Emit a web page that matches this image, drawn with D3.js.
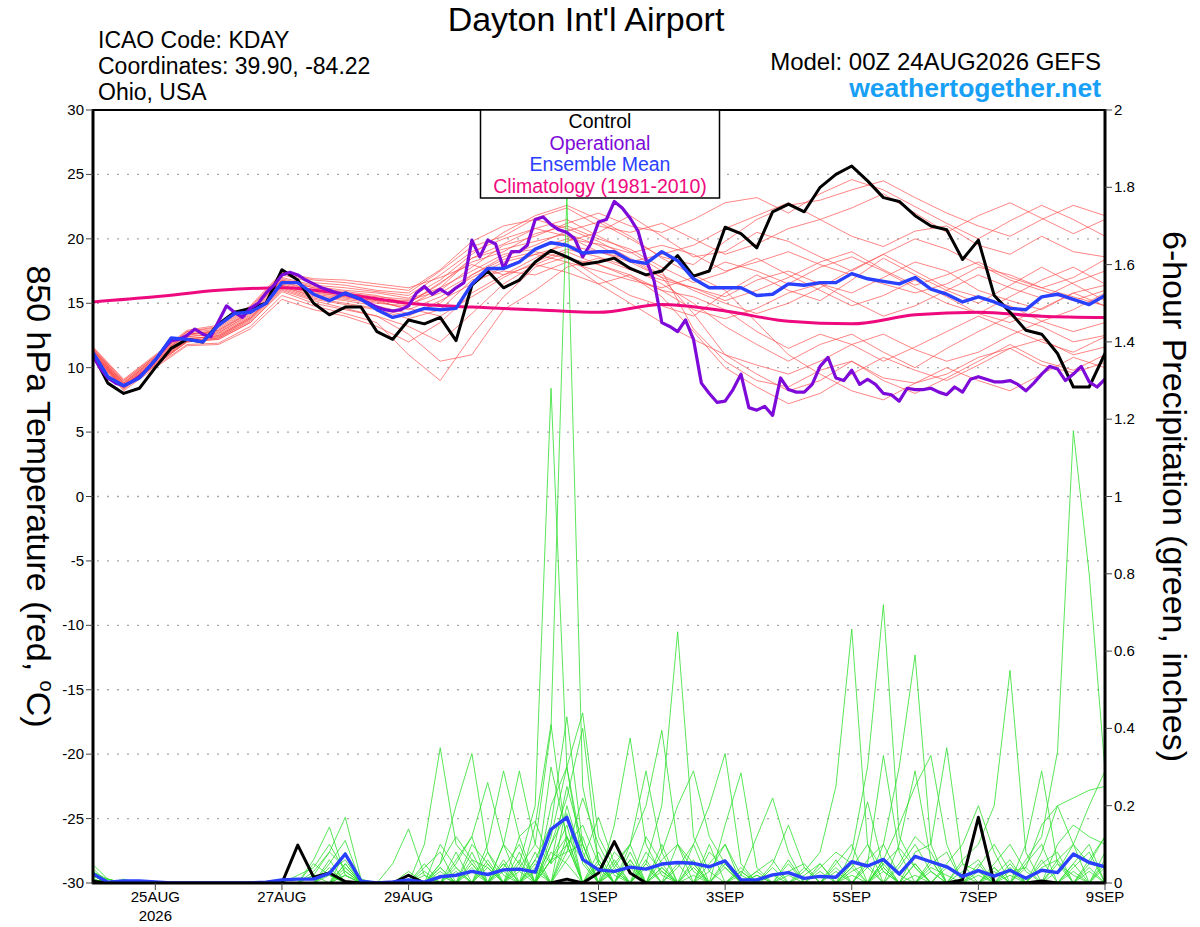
<!DOCTYPE html>
<html>
<head>
<meta charset="utf-8">
<script src="https://cdn.jsdelivr.net/npm/d3@7"></script>
<style>
body { margin: 0; background: #fff; }
svg text { font-family: "Liberation Sans", Arial, Helvetica, sans-serif; }
</style>
</head>
<body>
<script>
var stepHours = 6;   // control, mean, precip
var opHours = 3;     // operational run
var memHours = 12;   // ensemble temperature members
var climHours = 24;

var tickHours = [24, 72, 120, 192, 240, 288, 336, 384];
var tickLabels = ["25AUG", "27AUG", "29AUG", "1SEP", "3SEP", "5SEP", "7SEP", "9SEP"];
var tempTicks = [30, 25, 20, 15, 10, 5, 0, -5, -10, -15, -20, -25, -30];
var precipTicks = [0, 0.2, 0.4, 0.6, 0.8, 1, 1.2, 1.4, 1.6, 1.8, 2];

var controlT = [11.2,8.8,8.0,8.4,10.0,11.5,12.2,12.0,13.4,14.3,14.6,15.0,17.6,16.8,15.0,14.1,
	14.7,14.7,12.8,12.2,13.7,13.4,13.9,12.1,16.4,17.5,16.2,16.8,18.2,19.1,18.6,18.0,
	18.2,18.5,17.7,17.2,17.5,18.7,17.1,17.5,20.9,20.4,19.3,22.1,22.7,22.1,24.0,25.0,
	25.65,24.5,23.2,22.9,21.8,21.0,20.7,18.4,19.9,15.6,14.3,12.9,12.6,11.1,8.5,8.5,11.1];

var operT = [11.0,10.0,9.2,8.8,8.6,8.9,9.3,9.9,10.6,11.4,12.1,12.2,12.5,13.0,12.6,12.4,
	13.6,14.8,14.3,13.9,14.6,15.0,15.8,16.4,17.2,17.4,17.2,16.8,16.5,16.2,16.0,15.8,
	15.7,15.5,15.3,15.0,14.7,14.5,14.4,14.5,14.8,15.8,16.3,15.7,16.1,15.7,16.2,16.6,
	19.9,18.6,19.9,19.6,17.7,19.0,19.0,19.5,21.5,21.7,21.1,20.7,20.5,20.0,18.6,19.6,
	21.3,21.5,22.9,22.4,21.6,20.6,18.4,16.8,13.5,13.2,12.8,13.7,12.2,8.8,8.0,7.3,
	7.4,8.3,9.5,6.9,6.7,7.0,6.3,9.2,8.3,8.1,8.1,8.7,10.1,10.8,9.2,9.0,
	9.8,8.7,9.1,8.7,8.0,7.9,7.4,8.4,8.3,8.3,8.4,8.1,7.9,8.5,8.1,9.1,
	9.3,9.1,8.9,8.9,9.0,8.7,8.2,8.8,9.5,10.1,9.9,9.0,9.5,10.1,8.9,8.5,9.1];

var meanT = [11.3,9.3,8.6,9.2,10.6,12.3,12.2,12.0,13.3,14.2,14.3,15.0,16.6,16.6,15.7,15.2,
	15.8,15.3,14.5,13.9,14.2,14.6,14.5,14.6,16.5,17.7,17.7,18.2,19.2,19.7,19.5,18.9,
	19.0,19.0,18.3,18.1,19.0,18.3,16.9,16.2,16.2,16.2,15.6,15.7,16.5,16.4,16.6,16.6,
	17.3,16.9,16.7,16.5,17.0,16.1,15.7,15.1,15.5,15.1,14.6,14.5,15.5,15.7,15.3,14.9,15.6];

var climT = [15.1,15.5,16.0,16.2,15.7,15.0,14.7,14.5,14.3,14.9,14.4,13.6,13.4,14.1,14.3,14.0,13.9];

var membersT = [
	[11.5,8.8,10.8,12.6,12.8,14.3,16.8,16.2,15.9,15.6,15.0,16.5,18.5,19.6,20.8,21.5,20.2,19.0,17.5,13.0,10.5,9.0,8.5,9.8,10.5,9.2,8.8,9.5,10.8,11.5,10.2,9.6,10.4],
	[11.2,8.5,10.3,12.1,12.4,13.8,16.3,15.5,15.2,14.8,14.2,15.0,17.2,18.6,19.5,20.6,21.3,20.0,18.6,18.0,19.8,21.5,22.6,23.0,23.8,24.5,23.2,22.0,21.0,20.2,21.5,22.6,21.8],
	[11.0,8.3,10.2,12.0,12.2,13.5,16.0,15.2,14.6,14.0,12.6,10.5,11.0,14.5,16.0,17.8,18.5,17.6,16.8,16.2,15.5,16.8,17.5,16.5,15.8,17.0,18.2,17.5,16.0,15.2,14.5,15.8,16.4],
	[11.6,9.0,10.9,12.8,13.1,14.6,17.2,16.6,16.4,16.0,15.8,17.5,19.4,20.2,21.6,22.4,21.0,20.5,21.2,20.0,18.8,19.6,20.8,21.5,20.2,19.4,20.6,21.0,19.5,18.8,20.2,19.0,18.6],
	[11.3,8.6,10.5,12.4,12.6,14.0,16.5,15.9,15.5,15.2,14.5,15.5,17.0,18.2,18.8,19.5,19.0,18.4,17.0,14.2,11.0,9.5,8.2,9.0,10.5,9.0,8.0,9.2,10.5,11.8,10.5,9.8,11.0],
	[11.0,8.4,10.1,11.8,11.9,13.2,15.6,14.8,14.2,13.5,11.0,9.0,12.5,15.5,17.8,18.6,17.0,15.6,14.8,14.0,15.8,17.2,16.0,15.2,16.8,18.5,17.2,16.0,15.0,16.4,17.8,16.5,15.2],
	[11.4,8.7,10.6,12.5,12.9,14.4,16.9,16.3,16.0,15.8,15.4,16.8,18.8,20.5,21.8,22.6,21.5,20.2,18.5,17.2,16.0,13.5,11.0,9.5,8.2,7.5,8.8,10.0,9.0,8.2,9.5,10.8,10.0],
	[11.2,8.5,10.4,12.2,12.5,13.9,16.3,15.6,15.3,15.0,14.8,16.2,17.5,18.8,19.2,20.0,19.6,18.9,19.5,18.8,17.5,18.2,19.0,18.0,17.2,16.5,15.8,16.5,17.8,17.2,16.2,17.0,18.4],
	[11.7,9.1,11.0,12.9,13.3,14.8,17.4,16.9,16.8,16.5,16.2,17.0,18.0,17.2,18.5,19.8,20.5,21.8,20.2,18.6,19.0,20.5,19.8,18.6,17.5,18.8,20.0,19.2,18.0,16.8,16.0,15.2,16.0],
	[11.1,8.4,10.2,12.0,12.3,13.6,16.1,15.3,14.9,14.5,13.8,14.5,16.8,17.5,17.2,18.2,16.5,15.0,13.5,12.2,11.0,10.2,9.5,10.5,11.8,12.6,11.4,10.5,11.2,12.5,13.6,12.8,13.5],
	[11.4,8.8,10.7,12.6,12.7,14.2,16.7,16.0,15.7,15.4,15.0,16.6,18.2,19.0,20.4,21.0,20.0,19.2,17.8,16.6,17.4,18.5,17.2,16.0,14.8,15.6,16.8,15.5,14.2,13.5,14.6,15.8,14.8],
	[11.3,8.6,10.5,12.3,12.4,13.8,16.4,15.7,15.4,15.1,14.6,14.0,15.5,17.0,18.2,19.2,18.6,17.8,16.5,15.0,13.2,11.8,10.5,11.8,12.6,11.2,10.0,11.5,12.8,14.0,13.2,12.0,12.5],
	[11.5,8.9,10.8,12.7,13.0,14.5,17.0,16.4,16.2,15.9,15.6,17.2,19.0,20.0,20.8,20.2,19.0,18.2,18.8,19.5,20.8,21.8,22.8,21.5,22.4,23.5,22.0,20.5,21.8,22.8,21.6,20.4,21.5],
	[11.0,8.2,10.0,11.7,11.8,13.0,15.3,14.5,14.0,13.2,12.0,13.5,15.8,17.2,18.0,17.4,16.5,17.2,16.0,14.5,13.8,14.6,15.8,16.5,15.2,14.0,14.8,16.0,17.2,16.2,15.4,16.6,17.5],
	[11.6,9.0,10.9,12.8,13.2,14.7,17.3,16.8,16.6,16.3,16.0,17.6,19.8,21.0,21.5,20.8,19.8,18.5,17.2,16.0,15.0,14.2,15.0,16.2,17.6,18.8,17.5,16.2,15.5,14.8,13.6,14.5,15.8],
	[11.2,8.6,10.4,12.2,12.5,13.9,16.4,15.8,15.5,15.2,14.9,15.8,17.2,18.4,19.0,18.5,18.0,17.2,15.5,12.8,10.0,8.5,7.2,8.0,9.5,10.8,9.8,9.0,10.2,11.5,12.2,11.0,11.6],
	[11.3,8.7,10.6,12.4,12.7,14.1,16.6,16.0,15.6,15.3,15.2,16.0,17.8,19.5,20.2,21.2,22.0,21.0,20.5,21.5,22.8,23.2,22.0,23.5,24.6,23.8,22.5,21.2,20.0,21.4,22.6,21.5,20.2],
	[11.1,8.5,10.3,12.1,12.3,13.7,16.2,15.4,15.0,14.6,14.0,15.2,16.5,17.8,18.8,18.2,17.5,16.8,16.2,17.0,18.2,17.5,16.5,17.8,18.6,17.5,16.2,15.0,14.2,15.5,16.8,17.8,16.5],
	[11.5,8.8,10.7,12.6,12.9,14.3,16.8,16.2,15.8,15.5,15.3,16.2,18.5,19.2,19.8,20.4,19.5,18.2,17.0,16.2,15.2,16.0,17.0,18.2,19.0,17.6,16.4,17.2,18.2,17.0,16.2,15.5,14.8],
	[11.2,8.4,10.2,12.0,12.2,13.5,15.9,15.0,14.5,14.0,13.2,12.0,14.2,16.5,18.0,19.0,18.0,17.0,16.0,15.5,14.5,12.8,11.5,12.6,11.8,10.5,11.6,12.8,14.0,13.0,12.0,11.2,12.4]
];

var controlP = [0.005,0,0,0,0,0,0,0, 0,0,0,0,0,0.098,0.015,0.026,
	0.004,0,0,0,0.02,0,0,0, 0,0,0,0,0,0,0.01,0,
	0.026,0.107,0.026,0,0,0,0,0, 0,0,0,0,0,0,0,0,
	0,0,0,0,0,0,0,0.008, 0.17,0,0,0,0.005,0,0,0, 0];

var meanP = [0.025,0.002,0.005,0.005,0.003,0,0,0, 0,0,0,0.002,0.008,0.01,0.01,0.025,
	0.075,0.005,0,0.003,0.008,0.002,0.016,0.02, 0.03,0.022,0.034,0.036,0.028,0.139,0.17,0.061,
	0.034,0.03,0.041,0.036,0.049,0.053,0.051,0.042, 0.057,0.008,0.008,0.021,0.027,0.012,0.017,0.015,
	0.055,0.044,0.061,0.023,0.069,0.055,0.042,0.017, 0.032,0.018,0.033,0.012,0.033,0.027,0.075,0.053,
	0.042];

// members: [step, inches] for every non-zero 6-hour amount
var membersP = [
	[[0,0.05],[1,0.01],[13,0.02],[14,0.04],[15,0.1],[16,0.03],[22,0.05],[23,0.12],[24,0.06],[26,0.1],[27,0.05],[28,0.2],[29,1.28],[30,0.3],[31,0.08],[33,0.05],[34,0.1],[36,0.04],[38,0.02],[44,0.03],[45,0.05],[50,0.04],[52,0.08],[53,0.1],[54,0.35],[55,0.05],[58,0.02],[60,0.04],[61,0.06]],
	[[0,0.03],[2,0.01],[14,0.06],[15,0.145],[16,0.02],[21,0.04],[22,0.08],[24,0.1],[25,0.05],[27,0.12],[28,0.16],[29,0.05],[30,0.1],[32,0.06],[35,0.08],[36,0.03],[39,0.05],[40,0.1],[41,0.02],[46,0.04],[47,0.08],[48,0.05],[55,0.06],[56,0.1],[57,0.2],[58,0.55],[59,0.08],[62,0.03],[64,0.05]],
	[[0,0.02],[1,0.01],[14,0.03],[15,0.08],[16,0.17],[17,0.01],[23,0.06],[24,0.12],[26,0.06],[29,0.1],[30,0.22],[31,0.4],[32,0.05],[34,0.06],[37,0.04],[38,0.1],[40,0.05],[42,0.02],[49,0.06],[50,0.1],[51,0.02],[56,0.03],[59,0.1],[60,0.29],[61,0.05],[63,0.04]],
	[[0,0.04],[15,0.05],[16,0.11],[20,0.02],[22,0.1],[23,0.04],[25,0.08],[28,0.06],[29,0.15],[30,0.43],[31,0.1],[33,0.03],[35,0.12],[36,0.05],[42,0.03],[43,0.06],[48,0.04],[49,0.1],[52,0.05],[57,0.04],[60,0.08],[61,0.2],[62,0.1],[64,0.06]],
	[[0,0.02],[14,0.02],[15,0.08],[16,0.04],[21,0.03],[24,0.05],[26,0.04],[27,0.1],[29,0.2],[30,0.3],[31,0.44],[32,0.12],[33,0.04],[36,0.06],[37,0.1],[38,0.05],[41,0.03],[44,0.05],[47,0.03],[50,0.05],[53,0.06],[56,0.05],[59,0.06],[60,0.12],[61,0.34],[62,1.17],[63,0.8],[64,0.29]],
	[[1,0.01],[15,0.03],[16,0.06],[20,0.01],[22,0.02],[25,0.04],[28,0.05],[30,0.12],[31,0.06],[32,0.17],[33,0.05],[35,0.04],[39,0.08],[40,0.04],[45,0.02],[46,0.05],[51,0.04],[52,0.1],[53,0.03],[57,0.02],[58,0.06],[62,0.05],[63,0.1]],
	[[0,0.01],[14,0.05],[15,0.02],[24,0.04],[27,0.06],[29,0.08],[30,0.05],[33,0.15],[34,0.375],[35,0.1],[36,0.02],[40,0.06],[43,0.04],[48,0.03],[49,0.05],[54,0.04],[55,0.02],[61,0.03],[62,0.1],[63,0.2],[64,0.29]],
	[[0,0.02],[19,0.05],[20,0.14],[21,0.02],[23,0.03],[26,0.05],[28,0.08],[30,0.06],[31,0.12],[34,0.1],[35,0.2],[36,0.395],[37,0.1],[38,0.03],[44,0.02],[47,0.05],[48,0.1],[52,0.05],[56,0.02],[63,0.05],[64,0.12]],
	[[0,0.03],[1,0.01],[16,0.02],[21,0.1],[22,0.35],[23,0.1],[24,0.05],[27,0.03],[29,0.1],[30,0.18],[32,0.05],[36,0.08],[37,0.2],[38,0.29],[39,0.12],[40,0.05],[43,0.02],[50,0.03],[53,0.05],[54,0.08],[59,0.04]],
	[[0,0.02],[16,0.04],[22,0.05],[23,0.2],[24,0.335],[25,0.08],[26,0.02],[29,0.3],[30,0.12],[32,0.04],[35,0.05],[38,0.1],[39,0.2],[40,0.335],[41,0.05],[46,0.03],[49,0.04],[55,0.03],[56,0.06],[60,0.05],[61,0.08]],
	[[0,0.01],[15,0.03],[23,0.05],[24,0.12],[25,0.26],[26,0.1],[28,0.04],[30,0.2],[31,0.06],[33,0.03],[37,0.05],[41,0.02],[42,0.12],[43,0.22],[44,0.08],[48,0.02],[51,0.05],[52,0.12],[53,0.08],[58,0.04],[63,0.03]],
	[[0,0.02],[16,0.03],[21,0.02],[25,0.1],[26,0.29],[27,0.12],[29,0.06],[30,0.15],[33,0.08],[34,0.04],[39,0.03],[40,0.1],[43,0.05],[44,0.15],[45,0.04],[50,0.06],[52,0.02],[56,0.04],[57,0.1],[58,0.03],[62,0.05]],
	[[0,0.01],[14,0.02],[22,0.03],[26,0.1],[27,0.29],[28,0.1],[29,0.05],[30,0.25],[31,0.1],[34,0.06],[36,0.03],[38,0.05],[45,0.03],[46,0.08],[47,0.25],[48,0.657],[49,0.1],[50,0.03],[55,0.05],[56,0.03],[60,0.06],[64,0.04]],
	[[0,0.03],[16,0.05],[24,0.03],[26,0.05],[28,0.15],[29,0.41],[30,0.1],[31,0.15],[32,0.05],[35,0.06],[37,0.1],[41,0.04],[44,0.06],[48,0.05],[49,0.21],[50,0.04],[53,0.03],[57,0.05],[58,0.1],[59,0.03],[64,0.08]],
	[[0,0.02],[15,0.04],[22,0.02],[25,0.06],[27,0.04],[28,0.1],[29,0.4],[30,1.78],[31,0.25],[32,0.06],[34,0.05],[36,0.1],[40,0.04],[46,0.05],[48,0.08],[49,0.3],[50,0.72],[51,0.12],[52,0.04],[57,0.03],[61,0.05],[62,0.02]],
	[[0,0.01],[16,0.08],[20,0.03],[24,0.06],[25,0.04],[28,0.06],[30,0.08],[31,0.22],[32,0.1],[33,0.02],[38,0.04],[42,0.02],[49,0.05],[50,0.33],[51,0.08],[53,0.04],[54,0.02],[59,0.05],[60,0.1],[63,0.06],[64,0.12]],
	[[0,0.02],[15,0.06],[23,0.04],[27,0.08],[29,0.06],[30,0.12],[33,0.04],[34,0.1],[35,0.29],[36,0.08],[41,0.03],[47,0.04],[50,0.05],[51,0.09],[52,0.04],[54,0.05],[55,0.1],[56,0.2],[57,0.08],[61,0.1],[62,0.15],[63,0.12],[64,0.1]],
	[[0,0.03],[1,0.005],[16,0.05],[22,0.04],[25,0.05],[28,0.03],[30,0.1],[32,0.08],[35,0.05],[36,0.2],[37,0.65],[38,0.12],[39,0.03],[45,0.04],[50,0.1],[51,0.3],[52,0.59],[53,0.1],[58,0.05],[62,0.04],[63,0.08]],
	[[0,0.02],[15,0.02],[21,0.05],[23,0.08],[26,0.03],[29,0.12],[30,0.3],[31,0.05],[34,0.08],[38,0.06],[40,0.15],[41,0.285],[42,0.04],[47,0.06],[51,0.1],[52,0.29],[53,0.06],[58,0.03],[59,0.04],[60,0.15],[61,0.2],[62,0.22],[63,0.24],[64,0.25]],
	[[0,0.01],[16,0.02],[22,0.04],[24,0.08],[27,0.05],[29,0.06],[30,0.08],[31,0.1],[33,0.06],[36,0.04],[39,0.1],[42,0.03],[48,0.04],[50,0.06],[51,0.15],[52,0.25],[53,0.33],[54,0.1],[57,0.04],[61,0.06],[62,0.1],[63,0.05],[64,0.04]]
];

// ---- layout ----
var W = 1200, H = 927;
var pL = 93, pR = 1105, pT = 110, pB = 883;

var svg = d3.select("body").append("svg")
    .attr("width", W)
    .attr("height", H)
    .style("display", "block");

var x = d3.scaleLinear().domain([0, 384]).range([pL - 1, pR]);
var yT = d3.scaleLinear().domain([-30, 30]).range([pB, pT]);
var yP = d3.scaleLinear().domain([0, 2]).range([pB, pT]);

function expand(pairs){
    var a = d3.range(65).map(function(){ return 0; });
    pairs.forEach(function(p){ a[p[0]] = p[1]; });
    return a;
}

function lineT(hrs){
    return d3.line()
	.x(function(d, i){ return x(i * hrs); })
	.y(function(d){ return yT(d); });
}
function lineP(hrs){
    return d3.line()
	.x(function(d, i){ return x(i * hrs); })
	.y(function(d){ return yP(d); });
}

svg.append("clipPath").attr("id", "plot")
    .append("rect")
    .attr("x", pL).attr("y", pT)
    .attr("width", pR - pL).attr("height", pB - pT);

// dotted grid at every 5 C
svg.append("g").selectAll("line")
    .data(tempTicks.filter(function(t){ return t > -30 && t < 30; }))
    .enter().append("line")
    .attr("x1", pL + 4).attr("x2", pR)
    .attr("y1", function(d){ return yT(d); })
    .attr("y2", function(d){ return yT(d); })
    .style("stroke", "#a8a8a8")
    .style("stroke-width", 1.3)
    .style("stroke-dasharray", "2,8");

var plot = svg.append("g").attr("clip-path", "url(#plot)");

// ensemble members
plot.append("g").selectAll("path")
    .data(membersT)
    .enter().append("path")
    .attr("d", lineT(memHours))
    .style("fill", "none")
    .style("stroke", "#ff4a4a")
    .style("stroke-width", 0.8)
    .style("stroke-opacity", 0.85);

plot.append("g").selectAll("path")
    .data(membersP.map(expand))
    .enter().append("path")
    .attr("d", lineP(stepHours))
    .style("fill", "none")
    .style("stroke", "#2ee02e")
    .style("stroke-width", 0.8);

function thick(data, gen, color, w){
    plot.append("path")
	.datum(data)
	.attr("d", gen)
	.style("fill", "none")
	.style("stroke", color)
	.style("stroke-width", w)
	.style("stroke-linejoin", "round");
}

thick(climT, lineT(climHours).curve(d3.curveMonotoneX), "#ee0a7e", 3);
thick(controlT, lineT(stepHours), "#000", 3);
thick(operT, lineT(opHours), "#7d0ad8", 3.2);
thick(meanT, lineT(stepHours), "#2a40ff", 3.4);
thick(controlP, lineP(stepHours), "#000", 3);
thick(meanP, lineP(stepHours), "#2a40ff", 3.4);

// ---- frame and axes ----
var frame = svg.append("g").style("stroke", "#000");
frame.append("line").attr("x1", pL).attr("x2", pR).attr("y1", pT).attr("y2", pT).style("stroke-width", 2);
frame.append("line").attr("x1", pL - 1).attr("x2", pR + 1).attr("y1", pB).attr("y2", pB).style("stroke-width", 3);
frame.append("line").attr("x1", pL).attr("x2", pL).attr("y1", pT - 1).attr("y2", pB + 1).style("stroke-width", 3);
frame.append("line").attr("x1", pR).attr("x2", pR).attr("y1", pT - 1).attr("y2", pB + 1).style("stroke-width", 3);

var ax = svg.append("g").style("font-size", "15px");

ax.selectAll(".tl").data(tempTicks).enter().append("line")
    .attr("x1", pL - 7).attr("x2", pL)
    .attr("y1", function(d){ return yT(d); }).attr("y2", function(d){ return yT(d); })
    .style("stroke", "#444").style("stroke-width", 1);
ax.selectAll(".tt").data(tempTicks).enter().append("text")
    .attr("x", pL - 9)
    .attr("y", function(d){ return yT(d) + 5; })
    .attr("text-anchor", "end")
    .text(function(d){ return d; });

ax.selectAll(".pl").data(precipTicks).enter().append("line")
    .attr("x1", pR).attr("x2", pR + 7)
    .attr("y1", function(d){ return yP(d); }).attr("y2", function(d){ return yP(d); })
    .style("stroke", "#444").style("stroke-width", 1);
ax.selectAll(".pt").data(precipTicks).enter().append("text")
    .attr("x", pR + 9)
    .attr("y", function(d){ return yP(d) + 5; })
    .text(function(d){ return d; });

ax.selectAll(".xl").data(tickHours).enter().append("line")
    .attr("x1", function(d){ return x(d); }).attr("x2", function(d){ return x(d); })
    .attr("y1", pB).attr("y2", pB + 7)
    .style("stroke", "#444").style("stroke-width", 1);
ax.selectAll(".xt").data(tickHours).enter().append("text")
    .attr("x", function(d){ return x(d); })
    .attr("y", pB + 19)
    .attr("text-anchor", "middle")
    .text(function(d, i){ return tickLabels[i]; });
ax.append("text")
    .attr("x", x(tickHours[0])).attr("y", pB + 38)
    .attr("text-anchor", "middle")
    .text("2026");

// axis titles
var lt = svg.append("text")
    .attr("transform", "translate(27," + ((pT + pB) / 2) + ") rotate(90)")
    .attr("text-anchor", "middle")
    .style("font-size", "34px");
lt.append("tspan").text("850 hPa Temperature (red, ");
lt.append("tspan").attr("dy", -13).style("font-size", "20px").text("o");
lt.append("tspan").attr("dy", 13).text("C)");

svg.append("text")
    .attr("transform", "translate(1163," + ((pT + pB) / 2) + ") rotate(90)")
    .attr("text-anchor", "middle")
    .style("font-size", "34px")
    .text("6-hour Precipitation (green, inches)");

// ---- header ----
svg.append("text").attr("x", 586).attr("y", 31)
    .attr("text-anchor", "middle").style("font-size", "34px")
    .text("Dayton Int'l Airport");

var info = ["ICAO Code: KDAY", "Coordinates: 39.90, -84.22", "Ohio, USA"];
svg.selectAll(".info").data(info).enter().append("text")
    .attr("x", 98)
    .attr("y", function(d, i){ return 48 + i * 26; })
    .style("font-size", "23px")
    .text(function(d){ return d; });

svg.append("text").attr("x", 1101).attr("y", 70)
    .attr("text-anchor", "end").style("font-size", "24px")
    .text("Model: 00Z 24AUG2026 GEFS");
svg.append("text").attr("x", 1101).attr("y", 97)
    .attr("text-anchor", "end")
    .style("font-size", "26.5px").style("font-weight", "bold")
    .style("fill", "#17a0f5")
    .text("weathertogether.net");

// ---- legend ----
var legendNames = ["Control", "Operational", "Ensemble Mean", "Climatology (1981-2010)"];
var legendColors = ["#000", "#7d0ad8", "#2a40ff", "#ee0a7e"];
var lg = svg.append("g");
lg.append("rect")
    .attr("x", 480.5).attr("y", pT).attr("width", 239).attr("height", 88)
    .style("fill", "#fff").style("stroke", "#000").style("stroke-width", 1.5);
lg.selectAll("text").data(legendNames).enter().append("text")
    .attr("x", 600)
    .attr("y", function(d, i){ return 128 + i * 21.5; })
    .attr("text-anchor", "middle")
    .style("font-size", "19.5px")
    .style("fill", function(d, i){ return legendColors[i]; })
    .text(function(d){ return d; });
</script>
</body>
</html>
